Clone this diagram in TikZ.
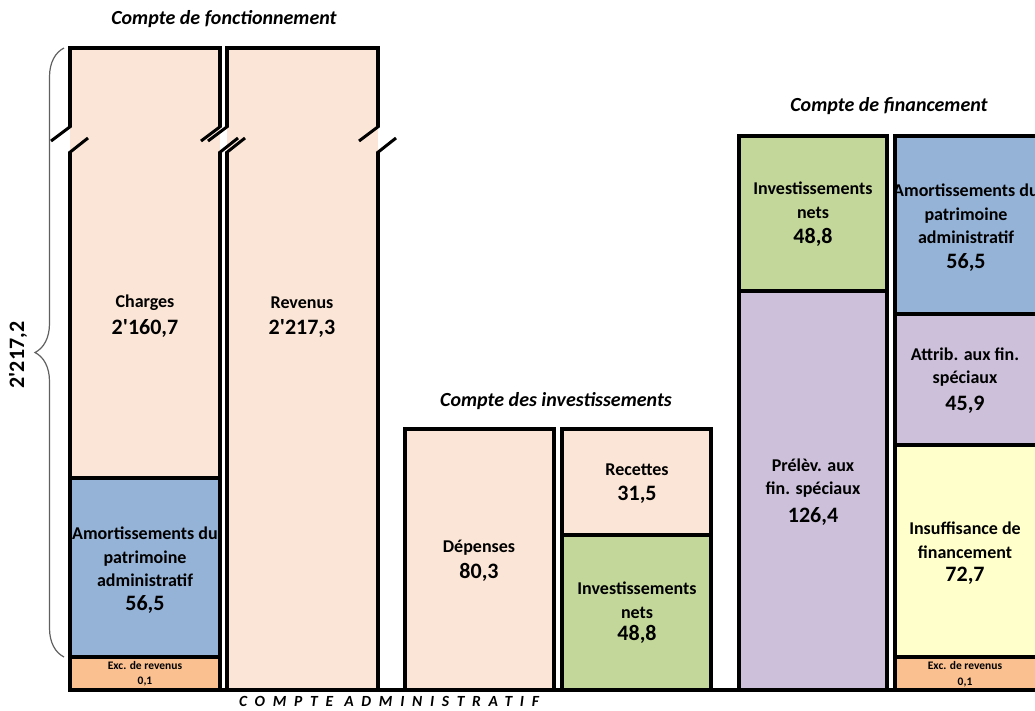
\documentclass[tikz,border=0pt]{standalone}
\usepackage{fontspec}
\setmainfont{Carlito}[Ligatures=TeXOff,BoldFont={Carlito Bold},BoldItalicFont={Carlito Bold Italic}]
\newfontfamily\spacedfont{Carlito}[LetterSpace=50,Ligatures=TeXOff,BoldItalicFont={Carlito Bold Italic}]
\usetikzlibrary{decorations.pathreplacing}
\definecolor{peach}{RGB}{251,229,214}
\definecolor{amortblue}{RGB}{149,179,215}
\definecolor{excorange}{RGB}{250,192,144}
\definecolor{invgreen}{RGB}{196,215,155}
\definecolor{finpurple}{RGB}{204,192,218}
\definecolor{insuffyellow}{RGB}{255,255,204}

\begin{document}
\begin{tikzpicture}[x=1pt,y=-1pt,
  box/.style={line width=3.2pt},
  slash/.style={line width=3pt},
  lab/.style={font=\fontsize{18}{23.5}\selectfont\bfseries,align=center},
  val/.style={font=\fontsize{22}{25}\selectfont\bfseries},
  small/.style={font=\fontsize{11.5}{14}\selectfont\bfseries},
  title/.style={font=\fontsize{20}{23}\selectfont\bfseries\itshape}]
 \clip(0,0)rectangle(1035,710);
 % Compte de fonctionnement, broken columns
 \fill[peach](70,48)rectangle(220,478);
 \fill[amortblue](70,478)rectangle(220,657);
 \fill[excorange](70,657)rectangle(220,690);
 \fill[peach](227,48)rectangle(378,690);
 \draw[box](70,127)--(70,48)--(220,48)--(220,127);
 \draw[box](70,152)--(70,690)--(220,690)--(220,152);
 \draw[box](70,478)--(220,478)(70,657)--(220,657);
 \draw[box](227,127)--(227,48)--(378,48)--(378,127);
 \draw[box](227,152)--(227,690)--(378,690)--(378,152);
 \foreach \e in {70,220,227,378}{
  \draw[slash]({\e-19},141)--({\e+1},126);
  \draw[slash]({\e-1},153)--({\e+18},138);
 }
 \draw[gray!75!black,line width=1.2pt,decorate,decoration={brace,amplitude=29pt}](64,657)--(64,48);
 \node[val,rotate=90](total)at(18,355){2'217,2};
 % Compte des investissements
 \fill[peach](405,429)rectangle(554,690);
 \fill[peach](562,429)rectangle(711,535);
 \fill[invgreen](562,535)rectangle(711,690);
 \draw[box](405,429)rectangle(554,690);
 \draw[box](562,429)rectangle(711,690);
 \draw[box](562,535)--(711,535);
 % Compte de financement
 \fill[invgreen](739,136)rectangle(887,291);
 \fill[finpurple](739,291)rectangle(887,690);
 \fill[amortblue](895,136)rectangle(1040,314);
 \fill[finpurple](895,314)rectangle(1040,445);
 \fill[insuffyellow](895,445)rectangle(1040,657);
 \fill[excorange](895,657)rectangle(1040,690);
 \draw[box](739,136)rectangle(887,690);
 \draw[box](739,291)--(887,291);
 \draw[box](895,136)rectangle(1040,690);
 \draw[box](895,314)--(1040,314)(895,445)--(1040,445)(895,657)--(1040,657);
 \draw[line width=4pt](68,690)--(1035,690);
 % titles
 \node[title](fonct)at(224,19){Compte de fonctionnement};
 \node[title](invest)at(556,401){Compte des investissements};
 \node[title](financ)at(889,106){Compte de financement};
 \node[font=\spacedfont\bfseries\itshape\fontsize{15.5}{18}\selectfont,inner sep=0pt](admin)at(389,701){COMPTE ADMINISTRATIF};
 % labels and values
 \node[lab](charges)at(145,303){Charges};
 \node[val](charges-v)at(145,328){2'160,7};
 \node[lab](revenus)at(302,303){Revenus};
 \node[val](revenus-v)at(302,328){2'217,3};
 \node[lab](amort)at(145,557){Amortissements du\\patrimoine\\administratif};
 \node[val](amort-v)at(145,604){56,5};
 \node[small](exc)at(145,665){Exc. de revenus};
 \node[small](exc-v)at(145,681){0,1};
 \node[lab](depenses)at(479,548){Dépenses};
 \node[val](depenses-v)at(479,572){80,3};
 \node[lab](recettes)at(637,470){Recettes};
 \node[val](recettes-v)at(637,495){31,5};
 \node[lab](invnets)at(637,600){Investissements\\nets};
 \node[val](invnets-v)at(637,634){48,8};
 \node[lab](fininv)at(813,200){Investissements\\nets};
 \node[val](fininv-v)at(813,237){48,8};
 \node[lab](prelev)at(813,478){Prélèv. aux\\fin. spéciaux};
 \node[val](prelev-v)at(813,516){126,4};
 \node[lab](finamort)at(966,214){Amortissements du\\patrimoine\\administratif};
 \node[val](finamort-v)at(966,262){56,5};
 \node[lab](attrib)at(965,367){Attrib. aux fin.\\spéciaux};
 \node[val](attrib-v)at(965,405){45,9};
 \node[lab](insuff)at(965,540){Insuffisance de\\financement};
 \node[val](insuff-v)at(965,576){72,7};
 \node[small](finexc)at(965,665){Exc. de revenus};
 \node[small](finexc-v)at(965,682){0,1};
\end{tikzpicture}
\end{document}
